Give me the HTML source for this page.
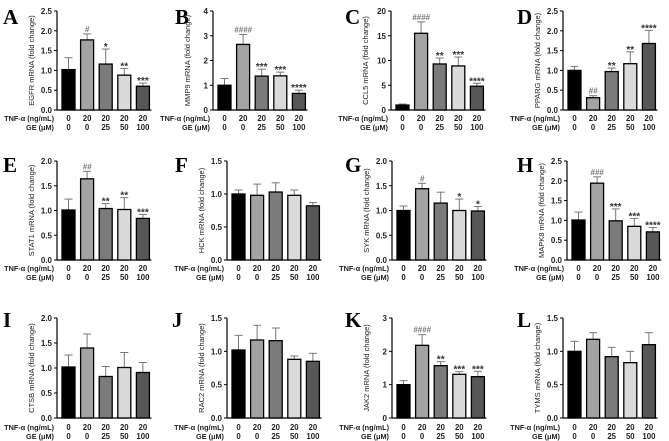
<!DOCTYPE html>
<html><head><meta charset="utf-8"><style>
body{margin:0;background:#fff}
svg{display:block;font-family:"Liberation Sans",Arial,sans-serif}
</style></head><body>
<svg id="fig" width="669" height="441" viewBox="0 0 669 441"></svg>
<script>
const panelLetters=['A','B','C','D','E','F','G','H','I','J','K','L'];
const genes=['EGFR','MMP9','CCL5','PPARG','STAT1','HCK','SYK','MAPK8','CTSB','RAC2','JAK2','TYMS'];
const tnfLabels=['0','20','20','20','20'];
const geLabels=['0','0','25','50','100'];
const yMaxes=[2.5,4,20,2.5,2.0,1.5,2.0,2.5,2.0,1.5,3,1.5];
const yStepsArr=[0.5,1,5,0.5,0.5,0.5,0.5,0.5,0.5,0.5,1,0.5];
const means=[[1.02,1.77,1.16,0.88,0.60],[1.0,2.65,1.37,1.38,0.67],[1.0,15.5,9.3,8.9,4.8],[1.0,0.31,0.97,1.17,1.68],
[1.01,1.64,1.04,1.02,0.84],[1.0,0.98,1.03,0.98,0.82],[1.0,1.44,1.15,1.0,0.99],[1.01,1.94,0.99,0.85,0.71],
[1.02,1.40,0.83,1.01,0.91],[1.02,1.17,1.16,0.88,0.85],[1.0,2.18,1.57,1.31,1.24],[1.0,1.18,0.92,0.83,1.10]];
const errs=[[0.30,0.15,0.38,0.17,0.08],[0.27,0.40,0.28,0.15,0.13],[0.2,2.3,1.2,1.8,0.6],[0.10,0.05,0.09,0.30,0.33],
[0.22,0.15,0.10,0.24,0.08],[0.06,0.17,0.14,0.08,0.05],[0.09,0.11,0.22,0.23,0.09],[0.20,0.16,0.30,0.20,0.11],
[0.24,0.28,0.20,0.30,0.20],[0.22,0.22,0.19,0.05,0.12],[0.12,0.32,0.12,0.08,0.16],[0.15,0.10,0.14,0.17,0.18]];
const sigs=[['','#','*','**','***'],['','####','***','***','****'],['','####','**','***','****'],['','##','**','**','****'],
['','##','**','**','***'],['','','','',''],['','#','','*','*'],['','###','***','***','****'],
['','','','',''],['','','','',''],['','####','**','***','***'],['','','','','']];
const barColors=['#000','#a3a3a3','#7b7b7b','#dadada','#575757'];
const axisXs=[57,213,391,563,57,227,392,567,57,227,392,563];
const rows=[{top:11,bot:110,tnf:121,ge:130},{top:161,bot:260,tnf:271,ge:280},{top:318,bot:418,tnf:430,ge:439}];
const letterX=[3,175,345,517,3,175,345,517,3,172,345,517];
const letterY=[24,24,24,24,172,172,172,172,327,327,327,327];
const NS='http://www.w3.org/2000/svg';
const svg=document.getElementById('fig');
function mk(tag,attrs,parent){const e=document.createElementNS(NS,tag);for(const k in attrs)e.setAttribute(k,attrs[k]);(parent||svg).appendChild(e);return e;}
for(let p=0;p<12;p++){
  const r=rows[Math.floor(p/4)], ax=axisXs[p], max=yMaxes[p];
  const g=mk('g',{});
  
  
  const yS=v=>r.bot-(v/max)*(r.bot-r.top);
  const xS=i=>ax+5+i*18.6;
  const bw=13;
  const L=mk('text',{x:letterX[p],y:letterY[p],'font-family':'Liberation Serif,serif','font-weight':'bold','font-size':'21'},g);
  L.textContent=panelLetters[p];
  
  
  const ya=mk('line',{x1:ax,y1:r.top,x2:ax,y2:r.bot,stroke:'#000','stroke-width':1.2},g);
  
  
  const xa=mk('line',{x1:ax,y1:r.bot,x2:xS(4)+bw+2,y2:r.bot,stroke:'#000','stroke-width':1.2},g);
  
  
  const st=yStepsArr[p];
  for(let v=0;v<=max+1e-9;v+=st){
    const y=yS(v);
    mk('line',{x1:ax-3,y1:y,x2:ax,y2:y,stroke:'#000','stroke-width':1},g);
    const t=mk('text',{x:ax-5,y:y+3,'text-anchor':'end','font-size':'8','font-weight':'bold',fill:'#222'},g);
    t.textContent=(st<1)?v.toFixed(1):String(Math.round(v));
    
    
  }
  const yt=mk('text',{transform:`translate(${ax-23},${(r.top+r.bot)/2}) rotate(-90)`,'text-anchor':'middle','font-size':'7.5',fill:'#222'},g);
  yt.textContent=genes[p]+' mRNA (fold change)';
  
  
  for(let i=0;i<5;i++){
    const x=xS(i), y=yS(means[p][i]), ye=yS(means[p][i]+errs[p][i]), cx=x+bw/2;
    const el=mk('line',{x1:cx,y1:y,x2:cx,y2:ye,stroke:'#777','stroke-width':1},g);
    mk('line',{x1:cx-4,y1:ye,x2:cx+4,y2:ye,stroke:'#777','stroke-width':1},g);
    
    
    const b=mk('rect',{x:x,y:y,width:bw,height:r.bot-y,fill:barColors[i],stroke:'#000','stroke-width':1.3},g);
    
    
    if(sigs[p][i]){
      const s=sigs[p][i];
      const isHash=s[0]==='#';
      const tt=mk('text',{x:cx,y:ye-(isHash?2:-1),'text-anchor':'middle','font-size':isHash?'8':'10','font-weight':'bold',fill:isHash?'#777':'#333','font-style':isHash?'italic':'normal'},g);
      tt.textContent=s;
      
      
    }
    const a=mk('text',{x:cx,y:r.tnf,'text-anchor':'middle','font-size':'7.8','font-weight':'bold',fill:'#222'},g);
    a.textContent=tnfLabels[i];
    
    
    const c=mk('text',{x:cx,y:r.ge,'text-anchor':'middle','font-size':'7.8','font-weight':'bold',fill:'#222'},g);
    c.textContent=geLabels[i];
    
    
  }
  const tl=mk('text',{x:ax-3,y:r.tnf,'text-anchor':'end','font-size':'7.3','font-weight':'bold',fill:'#222'},g);
  tl.textContent='TNF-α (ng/mL)';
  
  
  const gl=mk('text',{x:ax-3,y:r.ge,'text-anchor':'end','font-size':'7.3','font-weight':'bold',fill:'#222'},g);
  gl.textContent='GE (μM)';
  
  
}
</script>
</body></html>
